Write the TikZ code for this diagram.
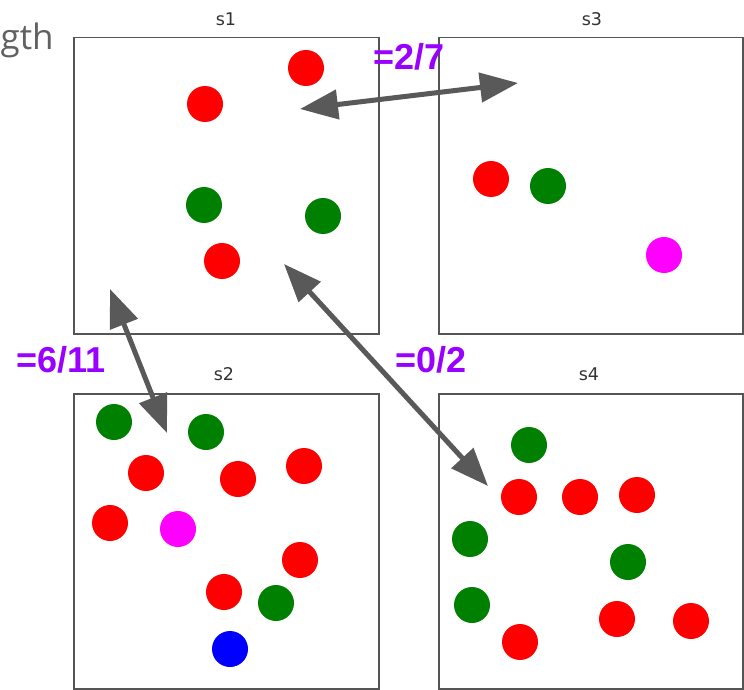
\documentclass[tikz,border=0pt]{standalone}
\usepackage{fontspec}
\setmainfont{DejaVu Sans}
\newfontfamily\labfont{Liberation Sans}
\newfontfamily\pagefont{Open Sans}
\usetikzlibrary{arrows.meta}
\definecolor{framegray}{HTML}{555555}
\definecolor{arrowgray}{HTML}{595959}
\definecolor{labpurple}{HTML}{9900FF}
\definecolor{dred}{HTML}{FF0000}
\definecolor{dgreen}{HTML}{008000}
\definecolor{dmag}{HTML}{FF00FF}
\definecolor{dblue}{HTML}{0000FF}
\tikzset{
  panel/.style={draw=framegray, line width=1.5pt, fill=white},
  ptitle/.style={font=\fontsize{17.5}{19}\selectfont, text=black!80, inner sep=0pt},
  dot/.style={circle, minimum size=36pt, inner sep=0pt, draw=none},
  rdot/.style={dot, fill=dred},
  gdot/.style={dot, fill=dgreen},
  mdot/.style={dot, fill=dmag},
  bdot/.style={dot, fill=dblue},
  conn/.style={draw=arrowgray, line width=5pt, {Triangle[length=38pt,width=29pt]}-{Triangle[length=38pt,width=29pt]}},
  ratio/.style={font=\labfont\bfseries\fontsize{36}{40}\selectfont, text=labpurple, inner sep=0pt}
}
\begin{document}
\begin{tikzpicture}[x=1pt, y=-1pt]
\useasboundingbox (0,0) rectangle (744,690);
\fill[white] (0,0) rectangle (744,690);
% partial page text
\node[font=\pagefont\fontsize{35}{40}\selectfont, text=black!62, anchor=base west, inner sep=0pt] (pg) at (0.5,50) {gth};
% panels
\node[panel, minimum width=305pt, minimum height=296pt, anchor=north west, inner sep=0pt] (s1) at (73,37) {};
\node[panel, minimum width=304pt, minimum height=296pt, anchor=north west, inner sep=0pt] (s3) at (438,37) {};
\node[panel, minimum width=305pt, minimum height=295pt, anchor=north west, inner sep=0pt] (s2) at (73,393) {};
\node[panel, minimum width=304pt, minimum height=295pt, anchor=north west, inner sep=0pt] (s4) at (438,393) {};
\node[ptitle] (t1) at (226,19) {s1};
\node[ptitle] (t3) at (592,19) {s3};
\node[ptitle] (t2) at (224,374) {s2};
\node[ptitle] (t4) at (589,374) {s4};
% s1 dots
\node[rdot] (a1) at (306,68) {};
\node[rdot] (a2) at (205,104) {};
\node[gdot] (a3) at (204,205) {};
\node[gdot] (a4) at (323,216) {};
\node[rdot] (a5) at (222,261) {};
% s3 dots
\node[rdot] (c1) at (491,179) {};
\node[gdot] (c2) at (548,186) {};
\node[mdot] (c3) at (664,255) {};
% s2 dots
\node[gdot] (b1) at (114,422) {};
\node[gdot] (b2) at (206,432) {};
\node[rdot] (b3) at (146,473) {};
\node[rdot] (b4) at (238,479) {};
\node[rdot] (b5) at (304,466) {};
\node[rdot] (b6) at (110,523) {};
\node[mdot] (b7) at (178,529) {};
\node[rdot] (b8) at (300,560) {};
\node[rdot] (b9) at (224,592) {};
\node[gdot] (b10) at (276,603) {};
\node[bdot] (b11) at (230,649) {};
% s4 dots
\node[gdot] (d1) at (529,445) {};
\node[rdot] (d2) at (519,497) {};
\node[rdot] (d3) at (580,497) {};
\node[rdot] (d4) at (637,495) {};
\node[gdot] (d5) at (470,539) {};
\node[gdot] (d6) at (628,562) {};
\node[gdot] (d7) at (472,605) {};
\node[rdot] (d8) at (520,642) {};
\node[rdot] (d9) at (617,619) {};
\node[rdot] (d10) at (691,621) {};
% arrow end points
\coordinate (e13a) at (300,109);
\coordinate (e13b) at (518,83);
\coordinate (e12a) at (110,289);
\coordinate (e12b) at (167,433);
\coordinate (e14a) at (284,264);
\coordinate (e14b) at (488,486);
\draw[conn] (e13a) -- (e13b);
\draw[conn] (e12a) -- (e12b);
\draw[conn] (e14a) -- (e14b);
% ratio labels
\node[ratio] (r13) at (409,57) {=2/7};
\node[ratio] (r12) at (61,360) {=6/11};
\node[ratio] (r14) at (431,360) {=0/2};
\end{tikzpicture}
\end{document}
